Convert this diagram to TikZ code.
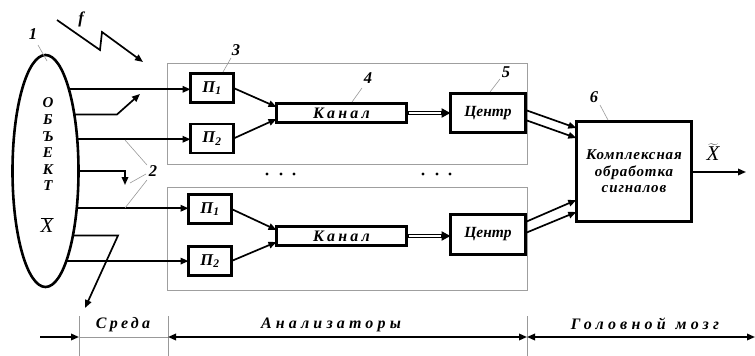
\documentclass[tikz,border=0pt]{standalone}
\usepackage{fontspec}
\setmainfont{Liberation Serif}
\newfontfamily\spaced[LetterSpace=20]{Liberation Serif}
\newfontfamily\wide[LetterSpace=26]{Liberation Serif}
\newfontfamily\loose[LetterSpace=6]{Liberation Serif}
\usetikzlibrary{arrows.meta,shapes.geometric,calc}

\begin{document}
\begin{tikzpicture}[x=1pt,y=-1pt,
  >={Triangle[length=8pt,width=6.5pt]},
  blk/.style={draw,line width=2.6pt,inner sep=0pt,outer sep=0pt,
    font=\bfseries\itshape\fontsize{15.5}{17}\selectfont},
  arr/.style={line width=1.7pt,->},
  frame/.style={draw=gray!75,line width=0.8pt},
  lead/.style={draw=gray!80,line width=0.6pt},
  num/.style={font=\bfseries\itshape\fontsize{16.5}{16.5}\selectfont,inner sep=0pt},
  pbox/.style={blk,minimum width=43pt,minimum height=29pt,
    font=\bfseries\itshape\fontsize{16.5}{16.5}\selectfont},
  kbox/.style={blk,minimum width=130pt,minimum height=19pt,
    font=\bfseries\itshape\fontsize{16}{16}\selectfont},
  cbox/.style={blk,minimum width=75pt,minimum height=39.5pt},
  seclabel/.style={font=\bfseries\itshape\fontsize{16}{16}\selectfont,inner sep=0pt},
  dbl/.style={line width=4.4pt,->,>={Triangle[length=9pt,width=9pt]}},
  dblgap/.style={white,line width=1.3pt,shorten >=10pt,shorten <=2pt}]
\useasboundingbox (0,0) rectangle (755,356);

% analyser frames
\draw[frame] (167,63) rectangle (527,164);
\draw[frame] (167,187) rectangle (527,290);

% object
\node[ellipse,draw,line width=2.6pt,minimum width=66pt,minimum height=232pt,
  inner sep=0pt,outer sep=0pt] (obj) at (45.5,171) {};
\node[align=center,font=\bfseries\itshape\fontsize{15}{16.6}\selectfont,inner sep=0pt]
  (objtxt) at (48,144.5) {О\\Б\\Ъ\\Е\\К\\Т};
\node[font=\fontsize{21}{21}\selectfont,inner sep=0pt] (xbar) at (47,225)
  {$\overline{\mbox{\itshape X}}$};

% receptors, channels, centres
\node[pbox] (Pa1) at (212,88) {П\textsubscript{1}};
\node[pbox] (Pa2) at (212,138.5) {П\textsubscript{2}};
\node[pbox] (Pb1) at (210,209) {П\textsubscript{1}};
\node[pbox] (Pb2) at (210,261) {П\textsubscript{2}};
\node[kbox] (Ka) at (341.5,113) {\spaced Канал};
\node[kbox] (Kb) at (341.5,236) {\spaced Канал};
\node[cbox] (Ca) at (488,113) {Центр};
\node[cbox] (Cb) at (488,234.5) {Центр};
\node[blk,minimum width=115.4pt,minimum height=100.4pt,align=center,
  font=\loose\bfseries\itshape\fontsize{15}{16.5}\selectfont] (B) at (634,171.5)
  {Комплексная\\обработка\\сигналов};

% signals from the object
\draw[arr] (obj.74.5) -- (obj.74.5 -| Pa1.west);
\draw[arr] (obj.45.3) -- (obj.45.3 -| Pa2.west);
\draw[arr] (obj.-50.6) -- (obj.-50.6 -| Pb1.west);
\draw[arr] (obj.-77) -- (obj.-77 -| Pb2.west);

\coordinate (r1) at (117,113);
\coordinate (r1e) at (140,94);
\draw[arr] (obj.63.7) -- (obj.63.7 -| r1) -- (r1e);
\coordinate (r2) at (125,171);
\coordinate (r2e) at (125,185);
\draw[arr] (obj.east) -- (r2) -- (r2e);
\coordinate (r3) at (118,237);
\coordinate (r3e) at (85,308);
\draw[arr] (obj.-67.7) -- (obj.-67.7 -| r3) -- (r3e);

% disturbance f
\coordinate (f0) at (57,20);
\coordinate (f1) at (100,50);
\coordinate (f2) at (102,32);
\coordinate (f3) at (143,62);
\draw[arr,line join=miter] (f0) -- (f1) -- (f2) -- (f3);
\node[num] (fl) at (81,19) {f};

% receptors to channels
\draw[arr] (Pa1.east) -- ([yshift=6pt]Ka.west);
\draw[arr] (Pa2.east) -- ([yshift=-6pt]Ka.west);
\draw[arr] (Pb1.east) -- ([yshift=6pt]Kb.west);
\draw[arr] (Pb2.east) -- ([yshift=-6pt]Kb.west);

% channels to centres
\draw[dbl] (Ka.east) -- (Ka.east -| Ca.west);
\draw[dblgap] (Ka.east) -- (Ka.east -| Ca.west);
\draw[dbl] (Kb.east) -- (Kb.east -| Cb.west);
\draw[dblgap] (Kb.east) -- (Kb.east -| Cb.west);

% centres to the processing block
\draw[arr] ([yshift=3pt]Ca.east) -- ([yshift=43.5pt]B.west);
\draw[arr] ([yshift=-7pt]Ca.east) -- ([yshift=33.5pt]B.west);
\draw[arr] ([yshift=12.5pt]Cb.east) -- ([yshift=-28.5pt]B.west);
\draw[arr] ([yshift=1.5pt]Cb.east) -- ([yshift=-40.5pt]B.west);

% output
\coordinate (out) at (746,172);
\draw[arr] (B.east |- out) -- (out);
\node[font=\fontsize{21}{21}\selectfont,inner sep=0pt] (xt) at (713,152)
  {$\widetilde{\mbox{\itshape X}}$};

% ellipsis between the analysers
\foreach \x in {267,281,294,423,437,450}
  \fill (\x,174) circle (1.7pt);

% numbered labels with leaders
\node[num] (n1) at (33,34) {1};
\draw[lead] (38,45) -- (47,61);
\node[num] (n2) at (153,171) {2};
\draw[lead] (147,165) -- (125,140);
\draw[lead] (146,174) -- (130,183);
\draw[lead] (147,180) -- (125,208);
\node[num] (n3) at (236,50) {3};
\draw[lead] (231,58) -- (223,72);
\node[num] (n4) at (368,78) {4};
\draw[lead] (362,88) -- (352,102);
\node[num] (n5) at (506,72) {5};
\draw[lead] (500,79) -- (490,92);
\node[num] (n6) at (594,97) {6};
\draw[lead] (600,105) -- (608,120);

% scale of the sections
\coordinate (t0) at (40,337);
\coordinate (t1) at (79,337);
\coordinate (t2) at (168,337);
\coordinate (t3) at (527,337);
\coordinate (t4) at (755,337);
\foreach \x in {79,168,527}
  \draw[lead] (\x,316) -- (\x,356);
\draw[lead] (t1) -- (t2);
\draw[line width=1.7pt,->] (t0) -- (t1);
\draw[line width=1.7pt,<->] (t2) -- (t3);
\draw[line width=1.7pt,<->] (t3) -- (t4);
\node[seclabel] (s1) at (123,325) {\spaced Среда};
\node[seclabel] (s2) at (331,325) {\wide Анализаторы};
\node[seclabel] (s3) at (645,324) {\wide Головной\hspace{10pt}мозг};
\end{tikzpicture}
\end{document}
